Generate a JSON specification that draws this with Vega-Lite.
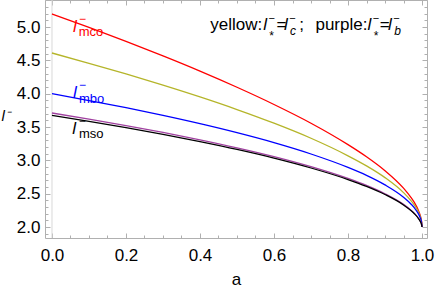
{
  "$schema": "https://vega.github.io/schema/vega-lite/v6.json",
  "width": 382,
  "height": 238,
  "autosize": "none",
  "padding": {"left": 45, "top": 0, "right": 9, "bottom": 49},
  "background": "white",
  "config": {
    "font": "Liberation Sans",
    "view": {"stroke": "#b0b0b0", "strokeWidth": 1},
    "axis": {
      "domain": false,
      "grid": false,
      "tickColor": "#b0b0b0",
      "tickWidth": 1,
      "labelFont": "Liberation Sans",
      "labelFontSize": 17,
      "labelColor": "#000000",
      "titleFont": "Liberation Sans",
      "titleColor": "#000000",
      "titleFontWeight": "normal"
    }
  },
  "datasets": {
    "curves": [
      {"curve": "red", "a": 0, "l": 5.196}, {"curve": "red", "a": 0.1, "l": 4.993}, {"curve": "red", "a": 0.2, "l": 4.783}, {"curve": "red", "a": 0.3, "l": 4.566}, {"curve": "red", "a": 0.4, "l": 4.338}, {"curve": "red", "a": 0.5, "l": 4.096}, {"curve": "red", "a": 0.6, "l": 3.838}, {"curve": "red", "a": 0.7, "l": 3.557}, {"curve": "red", "a": 0.8, "l": 3.236}, {"curve": "red", "a": 0.85, "l": 3.054}, {"curve": "red", "a": 0.9, "l": 2.845}, {"curve": "red", "a": 0.95, "l": 2.583}, {"curve": "red", "a": 0.97, "l": 2.444}, {"curve": "red", "a": 0.98, "l": 2.361}, {"curve": "red", "a": 0.99, "l": 2.252}, {"curve": "red", "a": 0.995, "l": 2.177}, {"curve": "red", "a": 0.999, "l": 2.078}, {"curve": "red", "a": 1, "l": 2.0},
      {"curve": "yellow", "a": 0, "l": 4.61}, {"curve": "yellow", "a": 0.1, "l": 4.456}, {"curve": "yellow", "a": 0.2, "l": 4.296}, {"curve": "yellow", "a": 0.3, "l": 4.128}, {"curve": "yellow", "a": 0.4, "l": 3.951}, {"curve": "yellow", "a": 0.5, "l": 3.762}, {"curve": "yellow", "a": 0.6, "l": 3.557}, {"curve": "yellow", "a": 0.7, "l": 3.331}, {"curve": "yellow", "a": 0.8, "l": 3.068}, {"curve": "yellow", "a": 0.85, "l": 2.917}, {"curve": "yellow", "a": 0.9, "l": 2.741}, {"curve": "yellow", "a": 0.95, "l": 2.516}, {"curve": "yellow", "a": 0.97, "l": 2.396}, {"curve": "yellow", "a": 0.98, "l": 2.323}, {"curve": "yellow", "a": 0.99, "l": 2.227}, {"curve": "yellow", "a": 0.995, "l": 2.159}, {"curve": "yellow", "a": 0.999, "l": 2.071}, {"curve": "yellow", "a": 1, "l": 2.0},
      {"curve": "blue", "a": 0, "l": 4.0}, {"curve": "blue", "a": 0.1, "l": 3.897}, {"curve": "blue", "a": 0.2, "l": 3.789}, {"curve": "blue", "a": 0.3, "l": 3.673}, {"curve": "blue", "a": 0.4, "l": 3.549}, {"curve": "blue", "a": 0.5, "l": 3.414}, {"curve": "blue", "a": 0.6, "l": 3.265}, {"curve": "blue", "a": 0.7, "l": 3.095}, {"curve": "blue", "a": 0.8, "l": 2.894}, {"curve": "blue", "a": 0.85, "l": 2.775}, {"curve": "blue", "a": 0.9, "l": 2.632}, {"curve": "blue", "a": 0.95, "l": 2.447}, {"curve": "blue", "a": 0.97, "l": 2.346}, {"curve": "blue", "a": 0.98, "l": 2.283}, {"curve": "blue", "a": 0.99, "l": 2.2}, {"curve": "blue", "a": 0.995, "l": 2.141}, {"curve": "blue", "a": 0.999, "l": 2.063}, {"curve": "blue", "a": 1, "l": 2.0},
      {"curve": "purple", "a": 0, "l": 3.71}, {"curve": "purple", "a": 0.1, "l": 3.618}, {"curve": "purple", "a": 0.2, "l": 3.522}, {"curve": "purple", "a": 0.3, "l": 3.419}, {"curve": "purple", "a": 0.4, "l": 3.308}, {"curve": "purple", "a": 0.5, "l": 3.188}, {"curve": "purple", "a": 0.6, "l": 3.056}, {"curve": "purple", "a": 0.7, "l": 2.905}, {"curve": "purple", "a": 0.8, "l": 2.728}, {"curve": "purple", "a": 0.85, "l": 2.623}, {"curve": "purple", "a": 0.9, "l": 2.498}, {"curve": "purple", "a": 0.95, "l": 2.339}, {"curve": "purple", "a": 0.97, "l": 2.253}, {"curve": "purple", "a": 0.98, "l": 2.201}, {"curve": "purple", "a": 0.99, "l": 2.135}, {"curve": "purple", "a": 0.995, "l": 2.09}, {"curve": "purple", "a": 0.999, "l": 2.033}, {"curve": "purple", "a": 1, "l": 2.0},
      {"curve": "black", "a": 0, "l": 3.674}, {"curve": "black", "a": 0.1, "l": 3.584}, {"curve": "black", "a": 0.2, "l": 3.49}, {"curve": "black", "a": 0.3, "l": 3.389}, {"curve": "black", "a": 0.4, "l": 3.28}, {"curve": "black", "a": 0.5, "l": 3.163}, {"curve": "black", "a": 0.6, "l": 3.033}, {"curve": "black", "a": 0.7, "l": 2.885}, {"curve": "black", "a": 0.8, "l": 2.712}, {"curve": "black", "a": 0.85, "l": 2.609}, {"curve": "black", "a": 0.9, "l": 2.487}, {"curve": "black", "a": 0.95, "l": 2.331}, {"curve": "black", "a": 0.97, "l": 2.247}, {"curve": "black", "a": 0.98, "l": 2.196}, {"curve": "black", "a": 0.99, "l": 2.131}, {"curve": "black", "a": 0.995, "l": 2.087}, {"curve": "black", "a": 0.999, "l": 2.032}, {"curve": "black", "a": 1, "l": 2.0}
    ],
    "labels": [
      {"k": "li", "curve": "red", "t": "l", "a": 0.057, "l": 4.925},
      {"k": "lsup", "curve": "red", "t": "−", "a": 0.073, "l": 5.066},
      {"k": "lsub", "curve": "red", "t": "mco", "a": 0.072, "l": 4.865},
      {"k": "li", "curve": "blue", "t": "l", "a": 0.057, "l": 3.935},
      {"k": "lsup", "curve": "blue", "t": "−", "a": 0.073, "l": 4.07},
      {"k": "lsub", "curve": "blue", "t": "mbo", "a": 0.073, "l": 3.86},
      {"k": "li", "curve": "black", "t": "l", "a": 0.055, "l": 3.395},
      {"k": "lsup", "curve": "black", "t": "−", "a": 0.072, "l": 3.53},
      {"k": "lsub", "curve": "black", "t": "mso", "a": 0.073, "l": 3.335},
      {"k": "gn", "curve": "none", "t": "yellow:", "a": 0.428, "l": 4.955},
      {"k": "gn", "curve": "none", "t": "=", "a": 0.607, "l": 4.955},
      {"k": "gn", "curve": "none", "t": ";", "a": 0.668, "l": 4.955},
      {"k": "gn", "curve": "none", "t": "purple:", "a": 0.712, "l": 4.955},
      {"k": "gn", "curve": "none", "t": "=", "a": 0.886, "l": 4.955},
      {"k": "gi", "curve": "none", "t": "l", "a": 0.571, "l": 4.955},
      {"k": "gi", "curve": "none", "t": "l", "a": 0.627, "l": 4.955},
      {"k": "gi", "curve": "none", "t": "l", "a": 0.853, "l": 4.955},
      {"k": "gi", "curve": "none", "t": "l", "a": 0.908, "l": 4.955},
      {"k": "gsup", "curve": "none", "t": "−", "a": 0.585, "l": 5.07},
      {"k": "gsup", "curve": "none", "t": "−", "a": 0.641, "l": 5.07},
      {"k": "gsup", "curve": "none", "t": "−", "a": 0.867, "l": 5.07},
      {"k": "gsup", "curve": "none", "t": "−", "a": 0.922, "l": 5.07},
      {"k": "gsub", "curve": "none", "t": "*", "a": 0.586, "l": 4.805},
      {"k": "gsub", "curve": "none", "t": "c", "a": 0.643, "l": 4.88},
      {"k": "gsub", "curve": "none", "t": "*", "a": 0.868, "l": 4.805},
      {"k": "gsub", "curve": "none", "t": "b", "a": 0.925, "l": 4.88}
    ]
  },
  "layer": [
    {
      "data": {"values": [{"z": 0}]},
      "mark": {"type": "rule", "color": "#d9d9d9", "strokeWidth": 1},
      "encoding": {
        "x": {"datum": 0, "type": "quantitative", "scale": {"domain": [-0.0189, 1.0135], "nice": false, "zero": false},
          "axis": {"orient": "top", "labels": false, "title": null,
            "values": [0, 0.05, 0.1, 0.15, 0.2, 0.25, 0.3, 0.35, 0.4, 0.45, 0.5, 0.55, 0.6, 0.65, 0.7, 0.75, 0.8, 0.85, 0.9, 0.95, 1.0],
            "tickSize": {"condition": {"test": "abs(datum.value*5 - round(datum.value*5)) < 0.001", "value": -5}, "value": -3}}},
        "y": {"datum": 1.835, "type": "quantitative", "scale": {"domain": [1.835, 5.405], "nice": false, "zero": false},
          "axis": {"orient": "right", "labels": false, "title": null,
            "values": [1.9, 2.0, 2.1, 2.2, 2.3, 2.4, 2.5, 2.6, 2.7, 2.8, 2.9, 3.0, 3.1, 3.2, 3.3, 3.4, 3.5, 3.6, 3.7, 3.8, 3.9, 4.0, 4.1, 4.2, 4.3, 4.4, 4.5, 4.6, 4.7, 4.8, 4.9, 5.0, 5.1, 5.2, 5.3, 5.4],
            "tickSize": {"condition": {"test": "abs(datum.value*2 - round(datum.value*2)) < 0.001", "value": -5}, "value": -3}}},
        "y2": {"datum": 5.405}
      }
    },
    {
      "data": {"name": "curves"},
      "mark": {"type": "line", "strokeWidth": 1.3, "interpolate": "monotone"},
      "encoding": {
        "x": {"field": "a", "type": "quantitative", "scale": {"domain": [-0.0189, 1.0135], "nice": false, "zero": false},
          "axis": {"orient": "bottom", "title": "a", "titleFontSize": 17, "titlePadding": 8, "labelPadding": 14,
            "values": [0, 0.05, 0.1, 0.15, 0.2, 0.25, 0.3, 0.35, 0.4, 0.45, 0.5, 0.55, 0.6, 0.65, 0.7, 0.75, 0.8, 0.85, 0.9, 0.95, 1.0],
            "labelExpr": "abs(datum.value*5 - round(datum.value*5)) < 0.001 ? format(datum.value, '.1f') : ''",
            "tickSize": {"condition": {"test": "abs(datum.value*5 - round(datum.value*5)) < 0.001", "value": -5}, "value": -3}}},
        "y": {"field": "l", "type": "quantitative", "scale": {"domain": [1.835, 5.405], "nice": false, "zero": false},
          "axis": {"orient": "left", "title": "l⁻", "titleAngle": 0, "titleAlign": "left", "titleBaseline": "alphabetic",
            "titleX": -44, "titleY": 120, "titleFontSize": 15, "titleFontStyle": "italic", "labelPadding": 10,
            "values": [1.9, 2.0, 2.1, 2.2, 2.3, 2.4, 2.5, 2.6, 2.7, 2.8, 2.9, 3.0, 3.1, 3.2, 3.3, 3.4, 3.5, 3.6, 3.7, 3.8, 3.9, 4.0, 4.1, 4.2, 4.3, 4.4, 4.5, 4.6, 4.7, 4.8, 4.9, 5.0, 5.1, 5.2, 5.3, 5.4],
            "labelExpr": "abs(datum.value*2 - round(datum.value*2)) < 0.001 ? format(datum.value, '.1f') : ''",
            "tickSize": {"condition": {"test": "abs(datum.value*2 - round(datum.value*2)) < 0.001", "value": -5}, "value": -3}}},
        "color": {"field": "curve", "type": "nominal", "legend": null,
          "scale": {"domain": ["red", "yellow", "blue", "purple", "black"], "range": ["#ff0000", "#b5b52a", "#0000ff", "#a040a0", "#000000"]}},
        "order": {"field": "a", "type": "quantitative"}
      }
    },
    {
      "data": {"name": "labels"},
      "transform": [{"filter": "datum.k == 'li'"}],
      "mark": {"type": "text", "fontSize": 17, "fontStyle": "italic", "align": "left", "baseline": "alphabetic"},
      "encoding": {
        "x": {"field": "a", "type": "quantitative", "scale": {"domain": [-0.0189, 1.0135], "nice": false, "zero": false}, "axis": null},
        "y": {"field": "l", "type": "quantitative", "scale": {"domain": [1.835, 5.405], "nice": false, "zero": false}, "axis": null},
        "text": {"field": "t"},
        "color": {"field": "curve", "type": "nominal", "legend": null}
      }
    },
    {
      "data": {"name": "labels"},
      "transform": [{"filter": "datum.k == 'lsup'"}],
      "mark": {"type": "text", "fontSize": 12, "align": "left", "baseline": "alphabetic"},
      "encoding": {
        "x": {"field": "a", "type": "quantitative", "axis": null},
        "y": {"field": "l", "type": "quantitative", "axis": null},
        "text": {"field": "t"},
        "color": {"field": "curve", "type": "nominal", "legend": null}
      }
    },
    {
      "data": {"name": "labels"},
      "transform": [{"filter": "datum.k == 'lsub'"}],
      "mark": {"type": "text", "fontSize": 13, "align": "left", "baseline": "alphabetic"},
      "encoding": {
        "x": {"field": "a", "type": "quantitative", "axis": null},
        "y": {"field": "l", "type": "quantitative", "axis": null},
        "text": {"field": "t"},
        "color": {"field": "curve", "type": "nominal", "legend": null}
      }
    },
    {
      "data": {"name": "labels"},
      "transform": [{"filter": "datum.k == 'gn'"}],
      "mark": {"type": "text", "fontSize": 17, "align": "left", "baseline": "alphabetic", "color": "#000000"},
      "encoding": {
        "x": {"field": "a", "type": "quantitative", "axis": null},
        "y": {"field": "l", "type": "quantitative", "axis": null},
        "text": {"field": "t"}
      }
    },
    {
      "data": {"name": "labels"},
      "transform": [{"filter": "datum.k == 'gi'"}],
      "mark": {"type": "text", "fontSize": 17, "fontStyle": "italic", "align": "left", "baseline": "alphabetic", "color": "#000000"},
      "encoding": {
        "x": {"field": "a", "type": "quantitative", "axis": null},
        "y": {"field": "l", "type": "quantitative", "axis": null},
        "text": {"field": "t"}
      }
    },
    {
      "data": {"name": "labels"},
      "transform": [{"filter": "datum.k == 'gsup'"}],
      "mark": {"type": "text", "fontSize": 11, "align": "left", "baseline": "alphabetic", "color": "#000000"},
      "encoding": {
        "x": {"field": "a", "type": "quantitative", "axis": null},
        "y": {"field": "l", "type": "quantitative", "axis": null},
        "text": {"field": "t"}
      }
    },
    {
      "data": {"name": "labels"},
      "transform": [{"filter": "datum.k == 'gsub'"}],
      "mark": {"type": "text", "fontSize": 12, "fontStyle": "italic", "align": "left", "baseline": "alphabetic", "color": "#000000"},
      "encoding": {
        "x": {"field": "a", "type": "quantitative", "axis": null},
        "y": {"field": "l", "type": "quantitative", "axis": null},
        "text": {"field": "t"}
      }
    }
  ],
  "resolve": {"axis": {"x": "independent", "y": "independent"}}
}
